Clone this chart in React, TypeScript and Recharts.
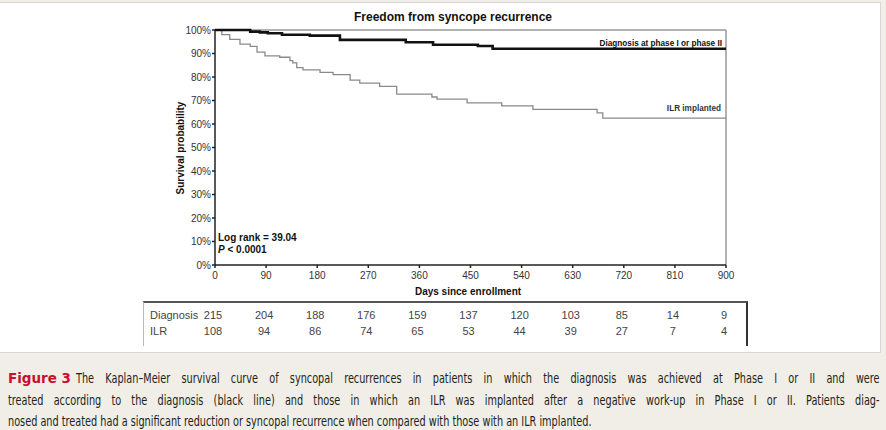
import React from "react";
import { LineChart, Line, XAxis, YAxis, ReferenceLine } from "recharts";

// Kaplan-Meier steps (days, survival %)
const diagnosisDays = [0, 62, 79, 93, 118, 167, 220, 336, 384, 463, 489, 900];
const diagnosisSurv = [100, 99.3, 99, 98.6, 98, 97.6, 95.8, 94.8, 93.7, 93.2, 92, 92];

const ilrDays = [0, 12, 26, 44, 62, 74, 88, 114, 132, 137, 144, 155, 185, 208, 238, 255, 290, 320, 382, 391, 444, 505, 560, 673, 683, 900];
const ilrSurv = [100, 98, 96, 94, 93, 90.6, 89, 88.4, 87, 86, 84, 83, 82, 81, 78.7, 77.4, 76, 72.7, 71.5, 70.6, 69, 67.7, 66.2, 64.7, 62.5, 62.5];

const dayTicks = [0, 90, 180, 270, 360, 450, 540, 630, 720, 810, 900];
const pctTicks = [0, 10, 20, 30, 40, 50, 60, 70, 80, 90, 100];

// numbers at risk under each day tick
const diagnosisAtRisk = [215, 204, 188, 176, 159, 137, 120, 103, 85, 14, 9];
const ilrAtRisk = [108, 94, 86, 74, 65, 53, 44, 39, 27, 7, 4];

const captionLines = [
  "The Kaplan–Meier survival curve of syncopal recurrences in patients in which the diagnosis was achieved at Phase I or II and were",
  "treated according to the diagnosis (black line) and those in which an ILR was implanted after a negative work-up in Phase I or II. Patients diag-",
  "nosed and treated had a significant reduction or syncopal recurrence when compared with those with an ILR implanted.",
];

const diagnosisData = diagnosisDays.map((d, i) => ({ day: d, surv: diagnosisSurv[i] }));
const ilrData = ilrDays.map((d, i) => ({ day: d, surv: ilrSurv[i] }));

const font = "Arial, 'Liberation Sans', Helvetica, sans-serif";
const capFamily = "'DejaVu Sans Condensed', 'Liberation Sans', Arial, sans-serif";
const capSize = 13.5;

let ctx: CanvasRenderingContext2D | null = null;
function measure(s: string, bold = false) {
  if (!ctx && typeof document !== "undefined") ctx = document.createElement("canvas").getContext("2d");
  if (!ctx) return s.length * capSize * 0.52;
  ctx.font = `${bold ? "bold " : ""}${capSize}px ${capFamily}`;
  return ctx.measureText(s).width;
}

// one squeeze for all caption lines (set by the last, unjustified line); first two justified
function layoutCaption() {
  const squeeze = 584 / measure(captionLines[2]);
  const rows = [
    { x0: 76, x1: 880, y: 383, justify: true },
    { x0: 8, x1: 880, y: 405, justify: true },
    { x0: 8, x1: 592, y: 426, justify: false },
  ];
  return captionLines.map((line, i) => {
    const r = rows[i];
    const spaces = line.split(" ").length - 1;
    const natural = measure(line);
    const ws = r.justify ? ((r.x1 - r.x0) / squeeze - natural) / spaces : 0;
    return { line, x: r.x0, y: r.y, squeeze, ws };
  });
}

const DayTick = (props: any) => {
  const { x, y, payload } = props;
  const i = dayTicks.indexOf(payload.value);
  return (
    <g fontFamily={font}>
      <text x={x} y={y} dy="0.71em" textAnchor="middle" fontSize={10} fill="#333">
        {payload.value}
      </text>
      <text x={x - 2} y={y + 47} textAnchor="middle" fontSize={11} fill="#444">
        {diagnosisAtRisk[i]}
      </text>
      <text x={x - 2} y={y + 63} textAnchor="middle" fontSize={11} fill="#444">
        {ilrAtRisk[i]}
      </text>
    </g>
  );
};

export default function App() {
  const rows = layoutCaption();
  const figSqueeze = 63 / measure("Figure 3", true) / (14.5 / capSize);
  return (
    <div style={{ position: "absolute", left: 0, top: 0, width: 886, height: 430, background: "#f0eee6", overflow: "hidden" }}>
      <div style={{ position: "absolute", left: -1, top: 2, width: 880, height: 349, background: "#fff", border: "1px solid #d6d6d6" }} />
      {/* number-at-risk table frame */}
      <div style={{ position: "absolute", left: 143, top: 301, width: 602, height: 43, borderTop: "2px solid #555", borderLeft: "1px solid #bbb", borderRight: "2px solid #333" }} />
      <div style={{ position: "absolute", left: 0, top: 0 }}>
        <LineChart width={886} height={352} margin={{ top: 30, right: 160, left: 175, bottom: 7 }}>
          <XAxis
            type="number"
            dataKey="day"
            domain={[0, 900]}
            ticks={dayTicks}
            interval={0}
            height={80}
            tick={<DayTick />}
            tickSize={3}
            tickMargin={4}
            stroke="#222"
            strokeWidth={1.5}
            allowDataOverflow
          />
          <YAxis
            type="number"
            dataKey="surv"
            domain={[0, 100]}
            ticks={pctTicks}
            interval={0}
            width={40}
            tickSize={3}
            tickMargin={1}
            tickFormatter={(v) => `${v}%`}
            tick={{ fontSize: 10, fill: "#333", fontFamily: font }}
            stroke="#222"
            strokeWidth={1.5}
          />
          <ReferenceLine y={100} stroke="#999" strokeWidth={1.5} />
          <ReferenceLine x={900} stroke="#999" strokeWidth={1.5} />
          <Line data={ilrData} dataKey="surv" type="stepAfter" stroke="#8a8a8a" strokeWidth={1.3} dot={false} isAnimationActive={false} />
          <Line data={diagnosisData} dataKey="surv" type="stepAfter" stroke="#111" strokeWidth={2.6} dot={false} isAnimationActive={false} />
        </LineChart>
      </div>
      <svg width={886} height={430} style={{ position: "absolute", left: 0, top: 0, pointerEvents: "none" }}>
        <g fontFamily={font} fill="#111">
          <text x={453} y={21} textAnchor="middle" fontSize={12} fontWeight="bold">Freedom from syncope recurrence</text>
          <text x={722} y={46} textAnchor="end" fontSize={8.2} fontWeight="bold">Diagnosis at phase I or phase II</text>
          <text x={721} y={111} textAnchor="end" fontSize={8.2} fontWeight="bold" fill="#333">ILR implanted</text>
          <text x={218} y={241} fontSize={10} fontWeight="bold">Log rank = 39.04</text>
          <text x={218} y={253} fontSize={10} fontWeight="bold">
            <tspan fontStyle="italic">P</tspan> &lt; 0.0001
          </text>
          <text x={468} y={295} textAnchor="middle" fontSize={10} fontWeight="bold">Days since enrollment</text>
          <text transform="translate(184,148) rotate(-90)" textAnchor="middle" fontSize={10} fontWeight="bold">Survival probability</text>
          <text x={150} y={319} fontSize={11} fill="#444" fontWeight="normal">Diagnosis</text>
          <text x={150} y={335} fontSize={11} fill="#444" fontWeight="normal">ILR</text>
        </g>
        <g fontFamily={capFamily} fontSize={capSize} fill="#231f20">
          <g transform={`translate(8,383) scale(${figSqueeze},1)`}>
            <text x={0} y={0} fill="#c8102e" fontWeight="bold" fontSize={14.5}>Figure 3</text>
          </g>
          {rows.map((r, i) => (
            <g key={i} transform={`translate(${r.x},${r.y}) scale(${r.squeeze},1)`}>
              <text x={0} y={0} style={{ wordSpacing: `${r.ws}px` }}>
                {r.line}
              </text>
            </g>
          ))}
        </g>
      </svg>
    </div>
  );
}
